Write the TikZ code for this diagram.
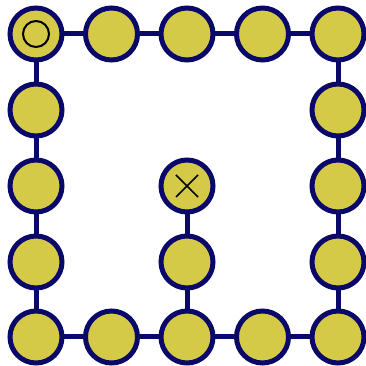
\documentclass[tikz,border=0pt]{standalone}
\usetikzlibrary{calc}
\definecolor{fillc}{RGB}{213,201,72}
\definecolor{edgec}{RGB}{10,8,105}
\begin{document}
\begin{tikzpicture}[x=1pt,y=1pt,
  cell/.style={circle,draw=edgec,fill=fillc,line width=5pt,minimum size=52pt,inner sep=0pt},
  link/.style={draw=edgec,line width=5pt}]
\useasboundingbox (0,0) rectangle (365,366);
\foreach \i/\x in {0/36,1/111.5,2/187,3/262.5,4/338}{
  \foreach \j/\y in {0/34,1/110,2/186,3/262,4/337}{
    \coordinate (p\i\j) at (\x,366-\y);
  }
}
% connectors
\draw[link] (p00) -- (p40) -- (p44) -- (p04) -- cycle;
\draw[link] (p24) -- (p22);
% nodes
\foreach \i/\j in {0/0,1/0,2/0,3/0,4/0,0/1,0/2,0/3,0/4,1/4,2/4,3/4,4/4,4/1,4/2,4/3,2/3,2/2}{
  \node[cell] (n\i\j) at (p\i\j) {};
}
\draw[black,line width=2pt] (n00.center) circle (13pt);
\draw[black,line width=1.6pt] ($(n22.center)+(-11,-11)$) -- ++(22,22);
\draw[black,line width=1.6pt] ($(n22.center)+(-11,11)$) -- ++(22,-22);
\end{tikzpicture}
\end{document}
